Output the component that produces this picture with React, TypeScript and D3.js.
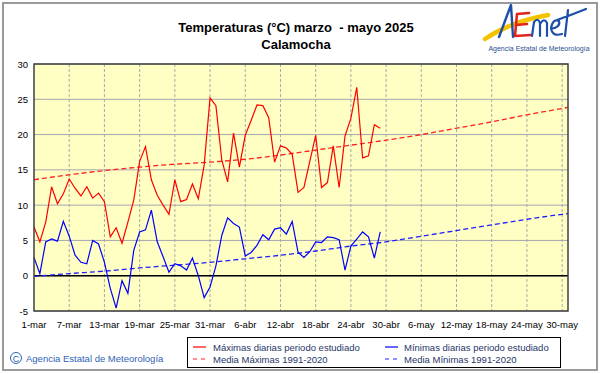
import * as d3 from "d3";

// Daily values 1-mar .. 29-abr 2025 (index 0 = 1-mar)
const tmax = [
  6.9, 4.8, 7.6, 12.6, 10.2, 11.6, 13.7, 12.4, 11.3, 12.6,
  11.0, 11.7, 10.5, 5.5, 6.8, 4.6, 7.6, 10.7, 16.2, 18.3,
  13.6, 11.4, 10.0, 8.7, 13.6, 10.5, 10.8, 13.0, 10.9, 15.7,
  25.2, 24.1, 16.4, 13.3, 20.2, 15.4, 19.9, 22.0, 24.2, 24.1,
  22.4, 16.1, 18.4, 18.1, 17.2, 11.8, 12.5, 16.2, 19.9, 12.5,
  13.2, 18.4, 12.5, 19.8, 22.3, 26.7, 16.7, 17.0, 21.4, 20.9,
];
const tmin = [
  2.6, 0.3, 4.8, 5.2, 4.9, 7.7, 5.6, 2.9, 1.9, 1.7,
  5.0, 4.5, 1.9, -1.8, -4.6, -0.7, -2.5, 3.6, 6.2, 6.5,
  9.3, 4.8, 2.7, 0.5, 1.7, 1.4, 0.8, 2.5, 0.0, -3.1,
  -1.6, 1.4, 5.7, 8.2, 7.4, 6.9, 2.8, 3.3, 4.3, 5.8,
  5.1, 6.6, 6.8, 5.9, 7.7, 3.3, 2.6, 3.4, 4.8, 4.7,
  5.5, 5.4, 5.1, 0.8, 4.2, 5.2, 6.2, 5.5, 2.5, 6.2,
];

// 1991-2020 means, read every 6 days
const normDays = [0, 6, 12, 18, 24, 30, 36, 42, 48, 54, 60, 66, 72, 78, 84, 90, 91];
const normMax = [13.6, 14.3, 14.9, 15.4, 15.8, 16.1, 16.5, 17.1, 17.8, 18.5, 19.2, 20.0, 20.9, 21.8, 22.8, 23.7, 23.85];
const normMin = [-0.1, 0.3, 0.65, 1.1, 1.5, 1.9, 2.4, 2.9, 3.5, 4.2, 4.8, 5.6, 6.4, 7.2, 8.0, 8.7, 8.8];

const tickDays = [0, 6, 12, 18, 24, 30, 36, 42, 48, 54, 60, 66, 72, 78, 84, 90];
const tickLabels = [
  "1-mar", "7-mar", "13-mar", "19-mar", "25-mar", "31-mar", "6-abr", "12-abr",
  "18-abr", "24-abr", "30-abr", "6-may", "12-may", "18-may", "24-may", "30-may",
];
const yTicks = [-5, 0, 5, 10, 15, 20, 25, 30];

const FONT = "'Liberation Sans', Arial, sans-serif";
const W = 601;
const H = 374;
const plot = { left: 34, right: 568, top: 64, bottom: 311 };

export default function App() {
  const x = d3.scaleLinear().domain([0, 91]).range([plot.left, plot.right]);
  const y = d3.scaleLinear().domain([-5, 30]).range([plot.bottom, plot.top]);

  const daily = d3
    .line<number>()
    .x((_, i) => x(i))
    .y((d) => y(d));

  const normLine = d3
    .line<[number, number]>()
    .x((d) => x(d[0]))
    .y((d) => y(d[1]))
    .curve(d3.curveMonotoneX);

  const maxPts = normDays.map((d, i) => [d, normMax[i]] as [number, number]);
  const minPts = normDays.map((d, i) => [d, normMin[i]] as [number, number]);

  return (
    <svg
      width={W}
      height={H}
      style={{ position: "absolute", left: 0, top: 0, background: "#fff" }}
      fontFamily={FONT}
    >
      <rect x={3} y={3} width={594} height={367} fill="#fff" stroke="#9a9a9a" strokeWidth={2} />

      {/* title */}
      <text x={296} y={32} textAnchor="middle" fontSize={13} fontWeight="bold" fill="#000" style={{ whiteSpace: "pre" }}>
        {"Temperaturas (°C) marzo  - mayo 2025"}
      </text>
      <text x={296} y={49} textAnchor="middle" fontSize={13} fontWeight="bold" fill="#000">
        Calamocha
      </text>

      {/* logo */}
      <g fill="none" strokeLinecap="round" strokeLinejoin="round">
        <path d="M485,39 Q510,22 548,15" stroke="#f4c300" strokeWidth={4.5} />
        <path d="M499,37 L511,5 L513,37" stroke="#1d4fa8" strokeWidth={2.4} />
        <path d="M529,13 L517,14 L515,36 L531,35 M516,25 L527,24" stroke="#e1251b" strokeWidth={2.6} />
        <path
          d="M532,36 L534,22 Q538,17 540,23 L540,36 M540,24 Q544,17 547,23 L547,36 M551,29 Q561,27 559,21 Q553,18 551,28 Q552,37 562,34 M568,10 L565,36 M557,20 Q571,15 586,9"
          stroke="#1d4fa8"
          strokeWidth={2.2}
        />
      </g>
      <text x={539} y={51} textAnchor="middle" fontSize={7} fill="#2a4f8f">
        Agencia Estatal de Meteorología
      </text>

      {/* plot background */}
      <rect x={plot.left} y={plot.top} width={plot.right - plot.left} height={plot.bottom - plot.top} fill="#ffffc4" />

      {/* grid */}
      {yTicks.map((t) => (
        <line key={"h" + t} x1={plot.left} x2={plot.right} y1={y(t)} y2={y(t)} stroke="#a5a5b0" strokeWidth={1} />
      ))}
      {tickDays.slice(1).map((d) => (
        <line key={"v" + d} x1={x(d)} x2={x(d)} y1={plot.top} y2={plot.bottom} stroke="#a8a8a8" strokeWidth={1} strokeDasharray="3,2" />
      ))}
      <line x1={plot.left} x2={plot.right} y1={y(0)} y2={y(0)} stroke="#000" strokeWidth={1.5} />

      {/* normals */}
      <path d={normLine(maxPts) ?? ""} fill="none" stroke="#ff2020" strokeWidth={1.3} strokeDasharray="5,3" />
      <path d={normLine(minPts) ?? ""} fill="none" stroke="#2020ff" strokeWidth={1.3} strokeDasharray="5,3" />

      {/* daily */}
      <path d={daily(tmax) ?? ""} fill="none" stroke="#ff0000" strokeWidth={1.2} />
      <path d={daily(tmin) ?? ""} fill="none" stroke="#0000ff" strokeWidth={1.2} />

      <rect
        x={plot.left}
        y={plot.top}
        width={plot.right - plot.left}
        height={plot.bottom - plot.top}
        fill="none"
        stroke="#404040"
        strokeWidth={1.5}
      />

      {/* axes labels */}
      {yTicks.map((t) => (
        <text key={"yl" + t} x={28} y={y(t) + 3.5} textAnchor="end" fontSize={9.5} fill="#000">
          {t}
        </text>
      ))}
      {tickDays.map((d, i) => (
        <text key={"xl" + d} x={x(d)} y={328} textAnchor="middle" fontSize={9.5} fill="#000">
          {tickLabels[i]}
        </text>
      ))}

      {/* copyright */}
      <circle cx={16} cy={358} r={5.5} fill="none" stroke="#2f62b5" strokeWidth={1} />
      <text x={16} y={361.5} textAnchor="middle" fontSize={9} fill="#2f62b5">C</text>
      <text x={26} y={362} fontSize={9.5} fill="#2f62b5">
        Agencia Estatal de Meteorología
      </text>

      {/* legend */}
      <rect x={187.5} y={337.5} width={373} height={30} fill="#fff" stroke="#000" strokeWidth={1} />
      <line x1={193} x2={206} y1={347} y2={347} stroke="#ff0000" strokeWidth={1.2} />
      <line x1={193} x2={206} y1={359} y2={359} stroke="#ff2020" strokeWidth={1.2} strokeDasharray="4,4" />
      <line x1={385} x2={398} y1={347} y2={347} stroke="#0000ff" strokeWidth={1.2} />
      <line x1={385} x2={398} y1={359} y2={359} stroke="#2020ff" strokeWidth={1.2} strokeDasharray="4,4" />
      <text x={213} y={350.5} fontSize={9.5} fill="#1f3566">Máximas diarias periodo estudiado</text>
      <text x={213} y={362.5} fontSize={9.5} fill="#1f3566">Media Máximas 1991-2020</text>
      <text x={404} y={350.5} fontSize={9.5} fill="#1f3566">Mínimas diarias periodo estudiado</text>
      <text x={404} y={362.5} fontSize={9.5} fill="#1f3566">Media Mínimas 1991-2020</text>
    </svg>
  );
}
